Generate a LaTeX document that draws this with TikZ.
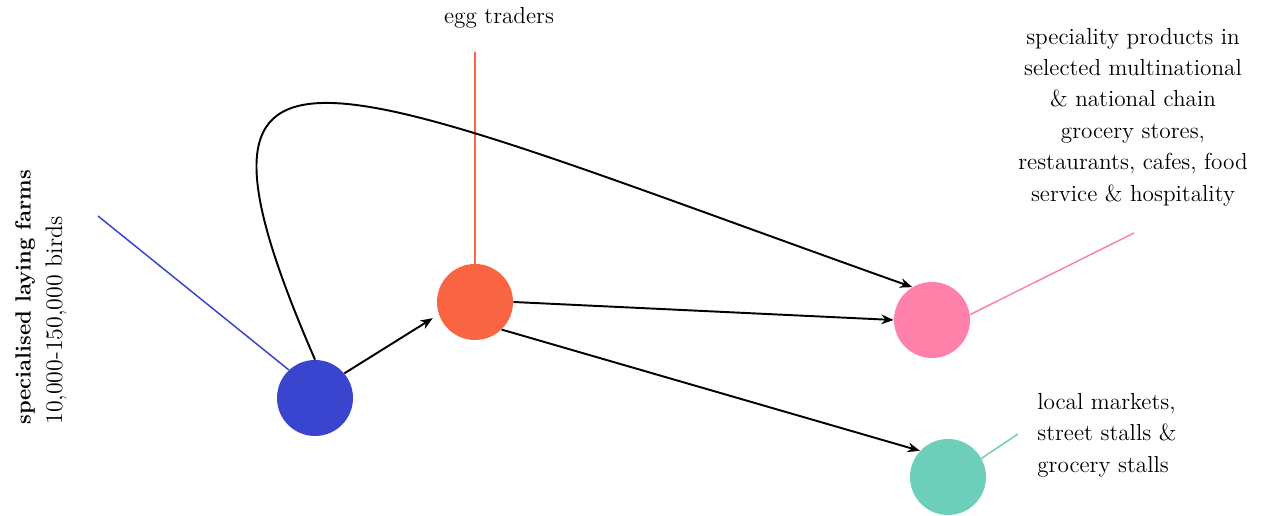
\documentclass[tikz,border=0pt]{standalone}
\usepackage{xcolor}
\usetikzlibrary{arrows.meta,positioning}
\definecolor{farmblue}{HTML}{3A45CF}
\definecolor{traderorange}{HTML}{F96442}
\definecolor{chainpink}{HTML}{FF80A8}
\definecolor{marketteal}{HTML}{6DCFBA}

\begin{document}
\begin{tikzpicture}[
  x=0.02cm, y=-0.02cm,
  >=Stealth,
  actor/.style={circle, minimum size=76*0.02cm, inner sep=0pt},
  label/.style={font=\fontsize{13.2}{17.9}\selectfont, inner sep=0pt},
  leader/.style={line width=0.85pt},
  flow/.style={->, draw=black, line width=1.1pt, arrows={-Stealth[length=7pt,width=5.5pt]}}
]
  \fill[white] (0,0) rectangle (1268,516);
  \useasboundingbox (0,0) rectangle (1268,516);
  % actors
  \node[actor, fill=farmblue] (farms) at (315,398) {};
  \node[actor, fill=traderorange] (traders) at (475,302) {};
  \node[actor, fill=chainpink] (chains) at (932,320) {};
  \node[actor, fill=marketteal] (markets) at (948,477) {};
  % labels
  \node[label, font=\fontsize{12.5}{17.9}\selectfont, rotate=90, anchor=north west, align=left] (farmstext) at (15,425) {\textbf{specialised laying farms}\\{\fontsize{13.6}{17.9}\selectfont 10,000-150,000 birds}};
  \node[label] (traderstext) at (499,18) {egg traders};
  \node[label, align=center] (chainstext) at (1133,117) {speciality products in\\selected multinational\\\& national chain\\grocery stores,\\restaurants, cafes, food\\service \& hospitality};
  \node[label, align=left, anchor=west] (marketstext) at (1037,435) {local markets,\\street stalls \&\\grocery stalls};
  % leader lines
  \coordinate (farmsend) at (98,216);
  \coordinate (tradersend) at (475,52);
  \coordinate (chainsend) at (1134,233);
  \coordinate (marketsend) at (1018,434);
  \draw[leader, farmblue] (farms.133) -- (farmsend);
  \draw[leader, traderorange] (traders.north) -- (tradersend);
  \draw[leader, chainpink] (chains.8) -- (chainsend);
  \draw[leader, marketteal] (markets.29) -- (marketsend);
  % flows
  \draw[flow, shorten >=4pt] (farms.40) -- (traders.199);
  \draw[flow] (traders.east) -- (chains.west);
  \draw[flow] (traders.-46) -- (markets.137);
  \draw[flow] (farms.north) .. controls (150,-20) and (330,80) .. (chains.121);
\end{tikzpicture}
\end{document}
